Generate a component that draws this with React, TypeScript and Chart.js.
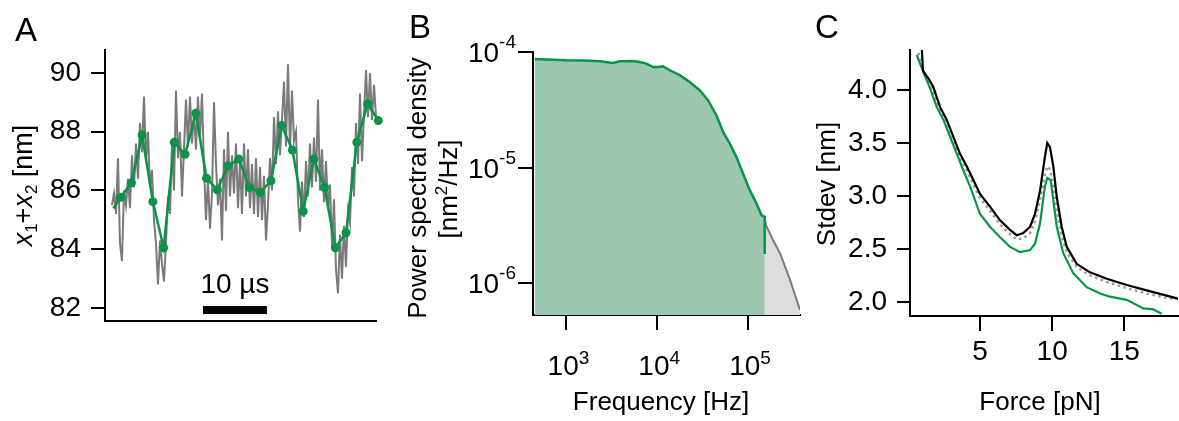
import React, { useEffect, useRef } from 'react';
import { Chart, registerables } from 'chart.js';

Chart.register(...registerables);

const FONT = "'Liberation Sans', Arial, Helvetica, sans-serif";
Chart.defaults.font.family = FONT;

const GREEN = '#0a9447';
const BLACK = '#000000';
const TICK_SIZE = 28;
const TITLE_SIZE = 26;

// ---------------- Panel A: x1 + x2 trace ----------------
const A_GRAY_T0 = 1.09; // µs, first raw sample
const A_GRAY_DT = 0.3125; // µs, raw sample interval
const A_GRAY_VALUES = [
  85.5, 85.9, 85.2, 87.1, 84.2, 83.6, 86.0, 85.5, 86.4, 85.4,
  87.2, 86.1, 87.6, 86.4, 88.3, 87.3, 89.2, 87.0, 88.0, 86.1,
  86.7, 85.0, 84.2, 82.8, 84.3, 83.5, 82.9, 84.2, 85.8, 85.2,
  87.6, 86.0, 89.4, 87.1, 88.0, 85.8, 87.4, 89.1, 87.5, 89.2,
  87.6, 88.7, 87.4, 89.2, 87.8, 89.3, 86.8, 85.0, 86.4, 84.7,
  85.9, 89.0, 86.9, 85.5, 86.4, 84.3, 87.4, 85.3, 88.0, 85.8,
  87.2, 85.9, 87.6, 85.4, 87.0, 85.2, 87.6, 85.8, 87.4, 85.4,
  86.9, 85.2, 87.1, 85.1, 86.8, 85.0, 86.5, 84.3, 85.5, 87.1,
  86.0, 88.5, 86.9, 88.7, 87.2, 88.4, 89.7, 87.5, 90.3, 87.4,
  89.4, 87.7, 88.0, 85.7, 84.6, 86.3, 85.1, 87.0, 85.8, 87.6,
  86.1, 87.8, 86.3, 89.1, 86.0, 87.4, 85.6, 87.0, 85.4, 86.2,
  84.1, 85.7, 83.3, 82.5, 84.5, 83.0, 84.8, 83.4, 85.3, 84.9,
  86.8, 85.8, 88.3, 86.9, 89.3, 87.0, 88.6, 90.1, 88.5, 90.0,
  88.4, 89.6, 88.5, 88.6,
];
const A_GREEN_TIMES = [
  1.3, 2.45, 4.13, 5.8, 7.48, 9.16, 10.83, 12.51, 14.19, 15.86,
  17.54, 19.22, 20.9, 22.57, 24.25, 25.93, 27.6, 29.28, 30.96, 32.63,
  34.31, 35.99, 37.66, 39.34, 41.02, 42.7,
];
const A_GREEN_VALUES = [
  85.39, 85.77, 86.26, 87.89, 85.62, 84.05, 87.64, 87.23, 88.63, 86.42,
  86.02, 86.84, 87.07, 86.1, 85.94, 86.33, 88.21, 87.38, 85.29, 87.07,
  86.1, 84.05, 84.56, 87.64, 88.95, 88.38,
];
const A_Y_TICKS = [82, 84, 86, 88, 90];
const A_SCALEBAR_LABEL = '10 µs';
const A_SCALEBAR_LEN = 10; // µs

// ---------------- Panel B: power spectral density ----------------
const B_GREEN_FREQ = [
  448, 1000, 1525, 2328, 3258, 3864, 5408, 6412, 7603, 8995, 10210, 11590,
  13740, 17700, 22800, 29380, 36220, 44870, 53090, 62810, 74470, 88100,
  104400, 123900, 140600, 152800, 152800,
];
const B_GREEN_PSD = [
  8.71e-5, 8.47e-5, 8.43e-5, 8.32e-5, 8.04e-5, 8.32e-5, 8.36e-5, 8.2e-5, 7.94e-5, 7.41e-5, 7.41e-5, 7.52e-5,
  6.95e-5, 6.3e-5, 5.51e-5, 4.67e-5, 3.83e-5, 2.84e-5, 2.04e-5, 1.62e-5, 1.24e-5, 8.91e-6,
  6.4e-6, 4.91e-6, 3.89e-6, 3.76e-6, 1.79e-6,
];
const B_GRAY_FREQ = [
  448, 1000, 1525, 2328, 3258, 3864, 5408, 6412, 7603, 8995, 10210, 11590,
  13740, 17700, 22800, 29380, 36220, 44870, 53090, 62810, 74470, 88100,
  104400, 123900, 140600, 152800, 157800, 188800, 225400, 290600, 374200,
];
const B_GRAY_PSD = [
  8.5e-5, 8.3e-5, 8.2e-5, 8.0e-5, 7.9e-5, 8.1e-5, 8.15e-5, 8.0e-5, 7.8e-5, 7.35e-5, 7.35e-5, 7.45e-5,
  6.9e-5, 6.25e-5, 5.45e-5, 4.6e-5, 3.78e-5, 2.8e-5, 2.02e-5, 1.6e-5, 1.22e-5, 8.8e-6,
  6.3e-6, 4.85e-6, 3.85e-6, 3.7e-6, 3.18e-6, 2.37e-6, 1.82e-6, 1.07e-6, 5.89e-7,
];
const B_X_TICKS = [1e3, 1e4, 1e5];
const B_Y_TICKS = [1e-6, 1e-5, 1e-4];

// ---------------- Panel C: Stdev vs force ----------------
const C_BLACK_FORCE = [
  0.93, 1.05, 1.42, 1.76, 2.23, 2.69, 3.15, 3.61, 4.08, 4.54, 5.0, 5.69, 6.39, 7.08, 7.54, 8.0, 8.47,
  8.81, 9.16, 9.5, 9.66, 9.85, 10.08, 10.32, 10.66, 11.01, 11.7, 12.62, 13.78, 15.17, 16.55, 17.94, 18.74,
];
const C_BLACK_STDEV = [
  4.5, 4.18, 4.11, 4.03, 3.84, 3.72, 3.56, 3.4, 3.28, 3.15, 3.02, 2.9, 2.77, 2.68, 2.63, 2.65, 2.71,
  2.83, 3.05, 3.37, 3.5, 3.46, 3.28, 2.99, 2.71, 2.52, 2.36, 2.28, 2.22, 2.16, 2.11, 2.06, 2.03,
];
const C_GREEN_FORCE = [
  0.61, 0.84, 1.19, 1.53, 2.0, 2.46, 2.92, 3.39, 3.85, 4.31, 5.0, 5.69, 6.39, 7.08, 7.77, 8.47,
  8.81, 9.16, 9.5, 9.66, 9.9, 10.08, 10.32, 10.77, 11.47, 12.39, 13.32, 14.01, 15.17, 16.32, 17.01, 17.59,
];
const C_GREEN_STDEV = [
  4.33, 4.25, 4.13, 4.02, 3.84, 3.72, 3.56, 3.4, 3.24, 3.09, 2.83, 2.71, 2.61, 2.52, 2.47, 2.49,
  2.55, 2.74, 3.09, 3.17, 3.15, 2.96, 2.71, 2.46, 2.27, 2.14, 2.08, 2.05, 2.02, 1.94, 1.93, 1.89,
];
const C_GRAY_FORCE = [
  0.73, 1.0, 1.42, 1.76, 2.23, 2.69, 3.15, 3.61, 4.08, 4.54, 5.0, 5.69, 6.39, 7.08, 7.54, 8.0, 8.47,
  8.81, 9.16, 9.5, 9.66, 9.85, 10.08, 10.32, 10.66, 11.01, 11.7, 12.62, 13.78, 15.17, 16.55, 17.94, 18.4,
];
const C_GRAY_STDEV = [
  4.35, 4.2, 4.07, 3.99, 3.8, 3.67, 3.51, 3.36, 3.24, 3.11, 2.98, 2.86, 2.73, 2.64, 2.59, 2.6, 2.65,
  2.76, 2.96, 3.2, 3.28, 3.25, 3.1, 2.86, 2.62, 2.47, 2.33, 2.25, 2.19, 2.13, 2.08, 2.04, 2.03,
];
const C_X_TICKS = [5, 10, 15];
const C_Y_TICKS = [2.0, 2.5, 3.0, 3.5, 4.0];

// ---------------- helpers ----------------
type Seg = { t: string; size: number; italic?: boolean; dy?: number };

function drawRich(ctx: CanvasRenderingContext2D, segs: Seg[], x: number, y: number, rotate: boolean) {
  ctx.save();
  ctx.translate(x, y);
  if (rotate) ctx.rotate(-Math.PI / 2);
  ctx.textAlign = 'left';
  ctx.textBaseline = 'alphabetic';
  ctx.fillStyle = '#000';
  const fontOf = (s: Seg) => `${s.italic ? 'italic ' : ''}${s.size}px ${FONT}`;
  const widths = segs.map((s) => {
    ctx.font = fontOf(s);
    return ctx.measureText(s.t).width;
  });
  const total = widths.reduce((a, b) => a + b, 0);
  let cx = -total / 2;
  segs.forEach((s, i) => {
    ctx.font = fontOf(s);
    ctx.fillText(s.t, cx, s.dy || 0);
    cx += widths[i];
  });
  ctx.restore();
}

function drawLetter(ctx: CanvasRenderingContext2D, t: string, x: number, y: number) {
  ctx.save();
  ctx.font = `33px ${FONT}`;
  ctx.fillStyle = '#000';
  ctx.textAlign = 'left';
  ctx.textBaseline = 'alphabetic';
  ctx.fillText(t, x, y);
  ctx.restore();
}

const axisGrid = (len: number) => ({
  display: true,
  drawOnChartArea: false,
  drawTicks: true,
  tickLength: len,
  color: BLACK,
  lineWidth: 2,
});
const axisBorder = { display: true, color: BLACK, width: 2 };

// ---------------- plugins ----------------
const panelAPlugin = {
  id: 'panelAText',
  afterDraw(chart: any) {
    const ctx = chart.ctx as CanvasRenderingContext2D;
    const xs = chart.scales.x;
    const ys = chart.scales.y;
    drawLetter(ctx, 'A', 15, 41);
    // scale bar
    const barStart = 15.3;
    const x0 = xs.getPixelForValue(barStart);
    const x1 = xs.getPixelForValue(barStart + A_SCALEBAR_LEN);
    const yb = ys.getPixelForValue(81.93);
    ctx.save();
    ctx.fillStyle = '#000';
    ctx.fillRect(x0, yb - 4, x1 - x0, 8);
    ctx.font = `${TICK_SIZE}px ${FONT}`;
    ctx.textAlign = 'center';
    ctx.textBaseline = 'alphabetic';
    ctx.fillText(A_SCALEBAR_LABEL, (x0 + x1) / 2, 293);
    ctx.restore();
    drawRich(
      ctx,
      [
        { t: 'x', size: 27, italic: true },
        { t: '1', size: 17, dy: 5 },
        { t: '+', size: 27 },
        { t: 'x', size: 27, italic: true },
        { t: '2', size: 17, dy: 5 },
        { t: ' [nm]', size: 27 },
      ],
      32,
      185.5,
      true
    );
  },
};

const panelBPlugin = {
  id: 'panelBText',
  afterDraw(chart: any) {
    const ctx = chart.ctx as CanvasRenderingContext2D;
    const xs = chart.scales.x;
    const ys = chart.scales.y;
    drawLetter(ctx, 'B', 409, 38);
    ctx.save();
    ctx.fillStyle = '#000';
    ctx.textBaseline = 'alphabetic';
    // y tick labels 10^n
    const rightEdge = ys.right - 17;
    for (const v of B_Y_TICKS) {
      const py = ys.getPixelForValue(v);
      const exp = String(Math.round(Math.log10(v)));
      ctx.font = `19px ${FONT}`;
      const ew = ctx.measureText(exp).width;
      ctx.textAlign = 'right';
      ctx.fillText(exp, rightEdge, py - 4);
      ctx.font = `${TICK_SIZE}px ${FONT}`;
      ctx.fillText('10', rightEdge - ew, py + 10);
    }
    // x tick labels 10^n
    for (const v of B_X_TICKS) {
      const px = xs.getPixelForValue(v);
      const exp = String(Math.round(Math.log10(v)));
      ctx.font = `19px ${FONT}`;
      const ew = ctx.measureText(exp).width;
      ctx.font = `${TICK_SIZE}px ${FONT}`;
      const bw = ctx.measureText('10').width;
      const left = px + 2 - (bw + ew) / 2;
      ctx.textAlign = 'left';
      ctx.fillText('10', left, 375);
      ctx.font = `19px ${FONT}`;
      ctx.fillText(exp, left + bw, 364);
    }
    ctx.restore();
    drawRich(ctx, [{ t: 'Power spectral density', size: TITLE_SIZE }], 426, 188, true);
    drawRich(
      ctx,
      [
        { t: '[nm', size: TITLE_SIZE },
        { t: '2', size: 17, dy: -10 },
        { t: '/Hz]', size: TITLE_SIZE },
      ],
      457,
      189,
      true
    );
    drawRich(ctx, [{ t: 'Frequency [Hz]', size: TITLE_SIZE }], 661, 410, false);
  },
};

const panelCPlugin = {
  id: 'panelCText',
  afterDraw(chart: any) {
    const ctx = chart.ctx as CanvasRenderingContext2D;
    drawLetter(ctx, 'C', 815, 38);
    drawRich(ctx, [{ t: 'Stdev [nm]', size: TITLE_SIZE }], 835, 184, true);
    drawRich(ctx, [{ t: 'Force [pN]', size: TITLE_SIZE }], 1040, 410, false);
  },
};

const baseOptions = {
  responsive: false,
  animation: false,
  devicePixelRatio: 1,
  events: [],
  plugins: { legend: { display: false }, tooltip: { enabled: false } },
};

function configA(): any {
  return {
    type: 'line',
    data: {
      datasets: [
        {
          data: A_GREEN_TIMES.map((t, i) => ({ x: t, y: A_GREEN_VALUES[i] })),
          borderColor: GREEN,
          backgroundColor: GREEN,
          borderWidth: 2.5,
          pointRadius: A_GREEN_TIMES.map((_, i) => (i === 0 ? 0 : 4.5)),
          pointBorderWidth: 0,
          pointBackgroundColor: GREEN,
          tension: 0,
          clip: false,
        },
        {
          data: A_GRAY_VALUES.map((v, i) => ({ x: A_GRAY_T0 + i * A_GRAY_DT, y: v })),
          borderColor: '#7a7a7a',
          borderWidth: 2,
          pointRadius: 0,
          tension: 0,
          clip: false,
        },
      ],
    },
    options: {
      ...baseOptions,
      layout: { padding: { left: 0, top: 50, right: 803, bottom: 0 } },
      scales: {
        x: {
          type: 'linear',
          min: 0,
          max: 42.34,
          grid: { display: false },
          ticks: { display: false },
          border: axisBorder,
          afterFit: (s: any) => {
            s.height = 100;
          },
        },
        y: {
          type: 'linear',
          min: 81.557,
          max: 90.783,
          grid: axisGrid(14),
          border: axisBorder,
          ticks: { font: { size: TICK_SIZE, family: FONT }, color: BLACK, padding: 10 },
          afterBuildTicks: (s: any) => {
            s.ticks = A_Y_TICKS.map((v) => ({ value: v }));
          },
          afterFit: (s: any) => {
            s.width = 105;
          },
        },
      },
    },
    plugins: [panelAPlugin],
  };
}

function configB(): any {
  return {
    type: 'line',
    data: {
      datasets: [
        {
          data: B_GREEN_FREQ.map((f, i) => ({ x: f, y: B_GREEN_PSD[i] })),
          borderColor: GREEN,
          borderWidth: 2.5,
          backgroundColor: '#9cc8b0',
          fill: 'start',
          pointRadius: 0,
          tension: 0,
        },
        {
          data: B_GRAY_FREQ.map((f, i) => ({ x: f, y: B_GRAY_PSD[i] })),
          borderColor: '#7d7d7d',
          borderWidth: 2,
          backgroundColor: '#dddddd',
          fill: 'start',
          pointRadius: 0,
          tension: 0,
        },
      ],
    },
    options: {
      ...baseOptions,
      layout: { padding: { left: 0, top: 52, right: 379, bottom: 0 } },
      scales: {
        x: {
          type: 'logarithmic',
          min: 428,
          max: 374200,
          grid: axisGrid(15),
          border: axisBorder,
          ticks: { display: false },
          afterBuildTicks: (s: any) => {
            s.ticks = B_X_TICKS.map((v) => ({ value: v }));
          },
          afterFit: (s: any) => {
            s.height = 106;
          },
        },
        y: {
          type: 'logarithmic',
          min: 5.32e-7,
          max: 1e-4,
          grid: axisGrid(15),
          border: axisBorder,
          ticks: { display: false },
          afterBuildTicks: (s: any) => {
            s.ticks = B_Y_TICKS.map((v) => ({ value: v }));
          },
          afterFit: (s: any) => {
            s.width = 533;
          },
        },
      },
    },
    plugins: [panelBPlugin],
  };
}

function configC(): any {
  return {
    type: 'line',
    data: {
      datasets: [
        {
          data: C_BLACK_FORCE.map((f, i) => ({ x: f, y: C_BLACK_STDEV[i] })),
          borderColor: BLACK,
          borderWidth: 2.2,
          pointRadius: 0,
          tension: 0,
        },
        {
          data: C_GREEN_FORCE.map((f, i) => ({ x: f, y: C_GREEN_STDEV[i] })),
          borderColor: GREEN,
          borderWidth: 2.2,
          pointRadius: 0,
          tension: 0,
        },
        {
          data: C_GRAY_FORCE.map((f, i) => ({ x: f, y: C_GRAY_STDEV[i] })),
          borderColor: '#9a9a9a',
          borderWidth: 2.5,
          borderDash: [2.5, 3.5],
          pointRadius: 0,
          tension: 0,
        },
      ],
    },
    options: {
      ...baseOptions,
      layout: { padding: { left: 0, top: 50, right: 1, bottom: 0 } },
      scales: {
        x: {
          type: 'linear',
          min: 0.15,
          max: 18.72,
          grid: axisGrid(15),
          border: axisBorder,
          ticks: { font: { size: TICK_SIZE, family: FONT }, color: BLACK, padding: 4, maxRotation: 0 },
          afterBuildTicks: (s: any) => {
            s.ticks = C_X_TICKS.map((v) => ({ value: v }));
          },
          afterFit: (s: any) => {
            s.height = 105;
          },
        },
        y: {
          type: 'linear',
          min: 1.868,
          max: 4.377,
          grid: axisGrid(13),
          border: axisBorder,
          ticks: {
            font: { size: TICK_SIZE, family: FONT },
            color: BLACK,
            padding: 10,
            callback: (v: any) => Number(v).toFixed(1),
          },
          afterBuildTicks: (s: any) => {
            s.ticks = C_Y_TICKS.map((v) => ({ value: v }));
          },
          afterFit: (s: any) => {
            s.width = 910;
          },
        },
      },
    },
    plugins: [panelCPlugin],
  };
}

export default function App() {
  const refA = useRef<HTMLCanvasElement>(null);
  const refB = useRef<HTMLCanvasElement>(null);
  const refC = useRef<HTMLCanvasElement>(null);

  useEffect(() => {
    const charts: Chart[] = [];
    if (refA.current) charts.push(new Chart(refA.current, configA()));
    if (refB.current) charts.push(new Chart(refB.current, configB()));
    if (refC.current) charts.push(new Chart(refC.current, configC()));
    return () => {
      charts.forEach((c) => c.destroy());
    };
  }, []);

  const canvasStyle: React.CSSProperties = { position: 'absolute', left: 0, top: 0 };
  return (
    <div style={{ position: 'absolute', left: 0, top: 0, width: 1179, height: 421, background: '#fff' }}>
      <canvas ref={refB} width={1179} height={421} style={canvasStyle} />
      <canvas ref={refC} width={1179} height={421} style={canvasStyle} />
      <canvas ref={refA} width={1179} height={421} style={canvasStyle} />
    </div>
  );
}
